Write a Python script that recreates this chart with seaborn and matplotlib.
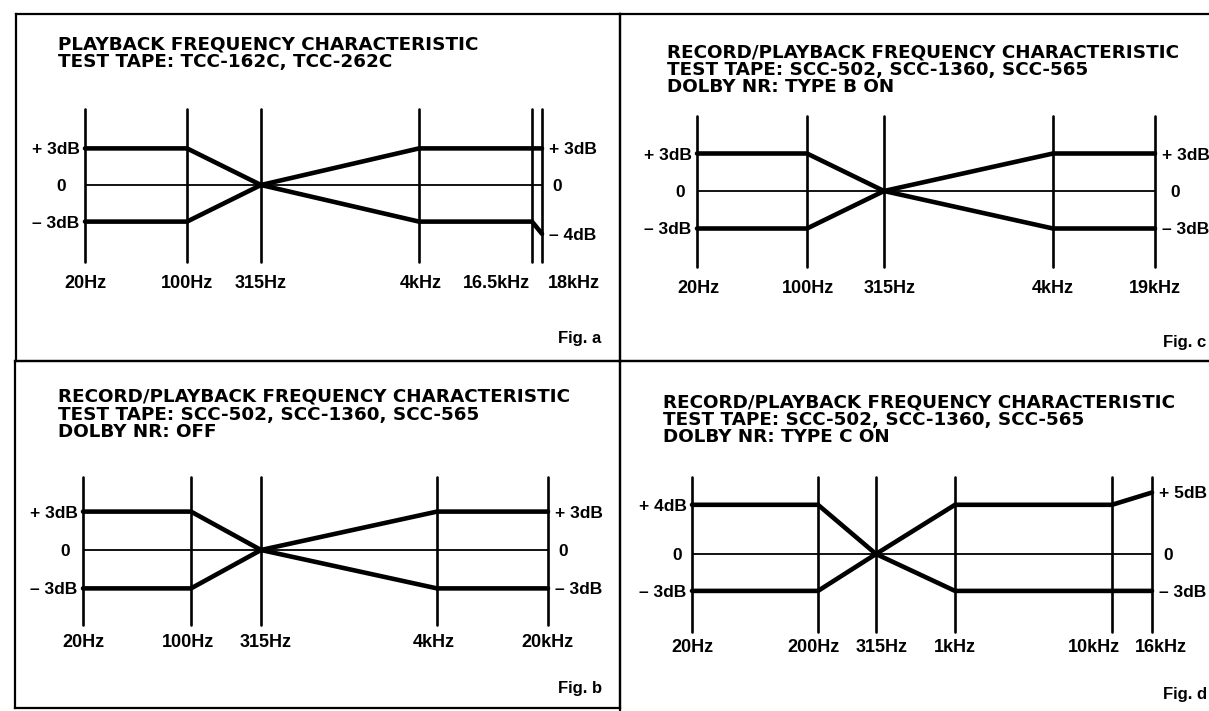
import pandas as pd
import matplotlib
matplotlib.use("Agg")
import matplotlib.pyplot as plt
import matplotlib.transforms as mtrans
import seaborn as sns

# ---- Fig. a : playback, test tapes TCC-162C / TCC-262C
a_title = "PLAYBACK FREQUENCY CHARACTERISTIC\nTEST TAPE: TCC-162C, TCC-262C"
a_freqs = ["20Hz", "100Hz", "315Hz", "4kHz", "16.5kHz", "18kHz"]
a_xpos = [0, 1.02, 1.76, 3.34, 4.47, 4.57]   # place of each frequency line (diagram is not to scale)
a_upper = [3, 3, 0, 3, 3, 3]
a_lower = [-3, -3, 0, -3, -3, -4]
a_left_db, a_left_txt = [3, 0, -3], ["+ 3dB", "0", "– 3dB"]
a_right_db, a_right_txt = [3, 0, -4], ["+ 3dB", "0", "– 4dB"]

# ---- Fig. b : record/playback, Dolby off
b_title = ("RECORD/PLAYBACK FREQUENCY CHARACTERISTIC\n"
           "TEST TAPE: SCC-502, SCC-1360, SCC-565\nDOLBY NR: OFF")
b_freqs = ["20Hz", "100Hz", "315Hz", "4kHz", "20kHz"]
b_xpos = [0, 1.08, 1.78, 3.54, 4.65]
b_upper = [3, 3, 0, 3, 3]
b_lower = [-3, -3, 0, -3, -3]
b_left_db, b_left_txt = [3, 0, -3], ["+ 3dB", "0", "– 3dB"]
b_right_db, b_right_txt = [3, 0, -3], ["+ 3dB", "0", "– 3dB"]

# ---- Fig. c : record/playback, Dolby B
c_title = ("RECORD/PLAYBACK FREQUENCY CHARACTERISTIC\n"
           "TEST TAPE: SCC-502, SCC-1360, SCC-565\nDOLBY NR: TYPE B ON")
c_freqs = ["20Hz", "100Hz", "315Hz", "4kHz", "19kHz"]
c_xpos = [0, 1.10, 1.87, 3.56, 4.58]
c_upper = [3, 3, 0, 3, 3]
c_lower = [-3, -3, 0, -3, -3]
c_left_db, c_left_txt = [3, 0, -3], ["+ 3dB", "0", "– 3dB"]
c_right_db, c_right_txt = [3, 0, -3], ["+ 3dB", "0", "– 3dB"]

# ---- Fig. d : record/playback, Dolby C
d_title = ("RECORD/PLAYBACK FREQUENCY CHARACTERISTIC\n"
           "TEST TAPE: SCC-502, SCC-1360, SCC-565\nDOLBY NR: TYPE C ON")
d_freqs = ["20Hz", "200Hz", "315Hz", "1kHz", "10kHz", "16kHz"]
d_xpos = [0, 1.26, 1.84, 2.63, 4.20, 4.60]
d_upper = [4, 4, 0, 4, 4, 5]
d_lower = [-3, -3, 0, -3, -3, -3]
d_left_db, d_left_txt = [4, 0, -3], ["+ 4dB", "0", "– 3dB"]
d_right_db, d_right_txt = [5, 0, -3], ["+ 5dB", "0", "– 3dB"]

W, H = 1209, 711
FONT = 12.5

sns.set_theme(style="white")
plt.rcParams["font.family"] = ["Liberation Sans", "DejaVu Sans"]
plt.rcParams["font.weight"] = "bold"
plt.rcParams["text.color"] = "black"
plt.rcParams["xtick.color"] = "black"
plt.rcParams["ytick.color"] = "black"

fig = plt.figure(figsize=(W / 100, H / 100), dpi=100)


def px_rect(l, t, r, b):
    return [l / W, 1 - b / H, (r - l) / W, (b - t) / H]


def shift(label, dx_px):
    label.set_transform(label.get_transform() +
                        mtrans.ScaledTranslation(dx_px / 100, 0, fig.dpi_scale_trans))


panels = {
    "a": dict(title=a_title, freqs=a_freqs, xpos=a_xpos, upper=a_upper, lower=a_lower,
              left=(a_left_db, a_left_txt), right=(a_right_db, a_right_txt)),
    "b": dict(title=b_title, freqs=b_freqs, xpos=b_xpos, upper=b_upper, lower=b_lower,
              left=(b_left_db, b_left_txt), right=(b_right_db, b_right_txt)),
    "c": dict(title=c_title, freqs=c_freqs, xpos=c_xpos, upper=c_upper, lower=c_lower,
              left=(c_left_db, c_left_txt), right=(c_right_db, c_right_txt)),
    "d": dict(title=d_title, freqs=d_freqs, xpos=d_xpos, upper=d_upper, lower=d_lower,
              left=(d_left_db, d_left_txt), right=(d_right_db, d_right_txt)),
}

# page layout in pixels of the scanned sheet
layout = {
    "a": dict(box=(85, 109, 542, 262), zero=185, dbpx=12.2, cell=(16, 14, 620, 361), sides="ltrb",
              title_at=(58, 35), tag_at=(601, 338), xpad=9.5, xshift=[0, 0, 0, 2, -36, 32], zl=-13, zr=3),
    "c": dict(box=(697, 116, 1155, 267), zero=191, dbpx=12.5, cell=(620, 14, 1260, 361), sides="ltb",
              title_at=(667, 43), tag_at=(1206, 343), xpad=9.5, xshift=[1, 1, 6, 0, 0], zl=-6, zr=8),
    "b": dict(box=(83, 477, 548, 625), zero=550, dbpx=12.8, cell=(15, 361, 620, 708), sides="ltrb",
              title_at=(58, 388), tag_at=(602, 688), xpad=6.5, xshift=[0, -3, 5, -3, -1], zl=-7, zr=3),
    "d": dict(box=(692, 477, 1152, 632), zero=554, dbpx=12.3, cell=(620, 361, 1260, 760), sides="lt",
              title_at=(663, 393), tag_at=(1207, 695), xpad=5, xshift=[0, -4, 6, 0, -18, 9], zl=-4, zr=4),
}

for key, p in panels.items():
    lay = layout[key]

    # frame around the figure cell
    fr = fig.add_axes(px_rect(*lay["cell"]), zorder=0)
    fr.set_facecolor("none")
    fr.set_xticks([])
    fr.set_yticks([])
    for side, name in zip("ltrb", ["left", "top", "right", "bottom"]):
        fr.spines[name].set_visible(side in lay["sides"])
        fr.spines[name].set_linewidth(1.6)
        fr.spines[name].set_color("black")

    l, t, r, b = lay["box"]
    ax = fig.add_axes(px_rect(l, t, r, b), zorder=2)
    ax.set_facecolor("none")
    ax.set_xlim(p["xpos"][0], p["xpos"][-1])
    ylim = (-(b - lay["zero"]) / lay["dbpx"], (lay["zero"] - t) / lay["dbpx"])
    ax.set_ylim(*ylim)

    for x in p["xpos"]:
        ax.axvline(x, color="black", lw=1.9, clip_on=False, zorder=1)
    ax.axhline(0, color="black", lw=1.3, zorder=1)

    df = pd.DataFrame({
        "pos": p["xpos"] * 2,
        "dB": p["upper"] + p["lower"],
        "limit": ["upper"] * len(p["xpos"]) + ["lower"] * len(p["xpos"]),
    })
    sns.lineplot(data=df, x="pos", y="dB", units="limit", estimator=None, color="black",
                 linewidth=3.3, legend=False, ax=ax, clip_on=False, zorder=3,
                 solid_joinstyle="miter")

    ax.set_xlabel("")
    ax.set_ylabel("")
    ax.set_xticks(p["xpos"], p["freqs"], fontsize=13)
    ax.tick_params(axis="x", length=0, pad=lay["xpad"])
    for lbl, dx in zip(ax.get_xticklabels(), lay["xshift"]):
        shift(lbl, dx)

    ax.set_yticks(p["left"][0], p["left"][1], fontsize=FONT)
    ax.tick_params(axis="y", length=0, pad=4)
    for lbl in ax.get_yticklabels():
        if lbl.get_text() == "0":
            shift(lbl, lay["zl"])

    ax2 = ax.twinx()
    ax2.set_ylim(*ylim)
    ax2.set_yticks(p["right"][0], p["right"][1], fontsize=FONT)
    ax2.tick_params(axis="y", length=0, pad=5)
    for lbl in ax2.get_yticklabels():
        if lbl.get_text() == "0":
            shift(lbl, lay["zr"])

    for a in (ax, ax2):
        for s in a.spines.values():
            s.set_visible(False)
        a.grid(False)

    tx, ty = lay["title_at"]
    fig.text(tx / W, 1 - ty / H, p["title"], ha="left", va="top", fontsize=13.2,
             family="DejaVu Sans", fontweight="bold", linespacing=0.97)
    gx, gy = lay["tag_at"]
    fig.text(gx / W, 1 - gy / H, "Fig. " + key, ha="right", va="center", fontsize=FONT - 0.5)

fig.savefig("out.png", dpi=100, facecolor="white")
